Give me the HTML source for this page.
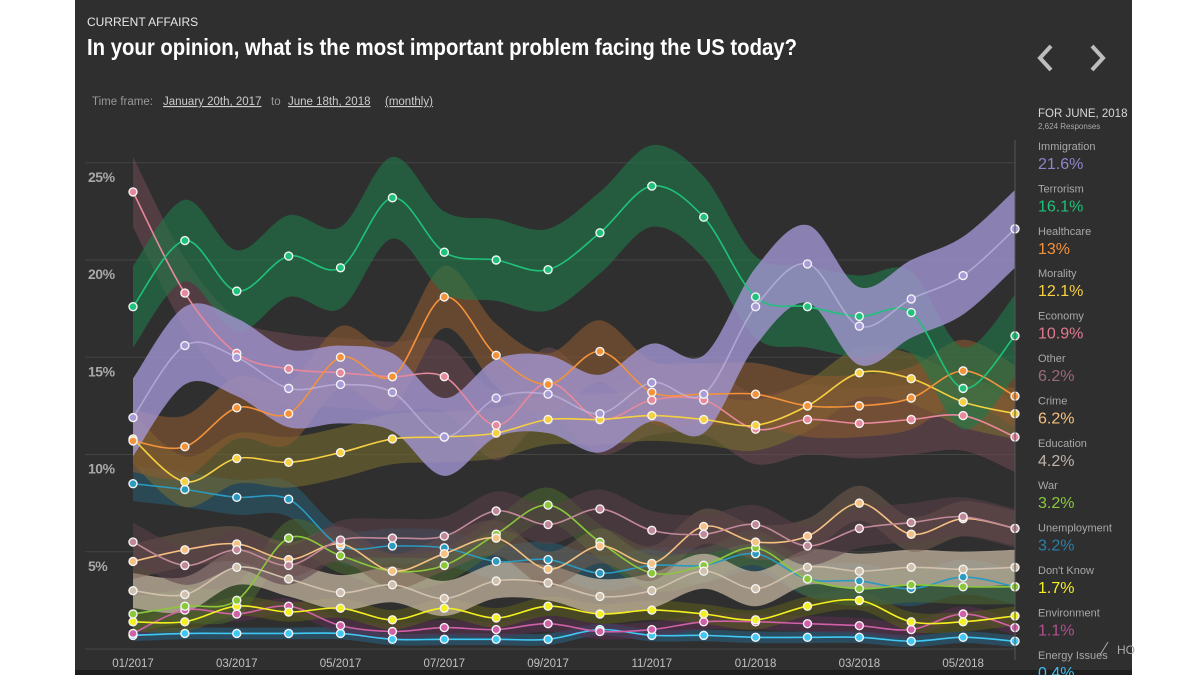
<!DOCTYPE html>
<html><head><meta charset="utf-8"><style>
html,body{margin:0;padding:0;background:#fff;}
svg{display:block;}
</style></head><body>
<svg id="chart" width="1200" height="675" xmlns="http://www.w3.org/2000/svg" font-family="'Liberation Sans', sans-serif">
<rect x="75" y="0" width="1057" height="675" fill="#2f2f2f"/>
<rect x="75" y="670" width="1057" height="5" fill="#1e1e1e"/>
<text x="87" y="26" fill="#e8e8e8" font-size="12">CURRENT AFFAIRS</text>
<text x="87" y="55" fill="#ffffff" font-size="23" font-weight="bold" font-family="'Liberation Sans Narrow','Liberation Sans',sans-serif" textLength="710" lengthAdjust="spacingAndGlyphs">In your opinion, what is the most important problem facing the US today?</text>
<text x="92" y="105" fill="#999" font-size="11.5">Time frame:</text>
<text x="163" y="105" fill="#ccc" font-size="11.5" text-decoration="underline">January 20th, 2017</text>
<text x="271" y="105" fill="#999" font-size="11.5">to</text>
<text x="288" y="105" fill="#ccc" font-size="11.5" text-decoration="underline">June 18th, 2018</text>
<text x="385" y="105" fill="#ccc" font-size="11.5" text-decoration="underline">(monthly)</text>
<polyline points="1051,46 1040,58 1051,70" fill="none" stroke="#bdbdbd" stroke-width="4"/>
<polyline points="1092,46 1103,58 1092,70" fill="none" stroke="#bdbdbd" stroke-width="4"/>
<g id="grid"></g>
<g id="bands"></g>
<g id="lines"></g>
<g id="xaxis"></g>
<line x1="1015" y1="140" x2="1015" y2="660" stroke="#555" stroke-width="1"/>
<text x="1038" y="117" fill="#d8d8d8" font-size="11.5">FOR JUNE, 2018</text>
<text x="1038" y="129" fill="#aaa" font-size="8">2,624 Responses</text>
<g id="legend"></g>
<text x="1117" y="654" fill="#aaa" font-size="12">HO</text>
<line x1="1100" y1="655" x2="1108" y2="642" stroke="#aaa" stroke-width="1"/>
</svg>
<script>
const months = ["01/2017","02/2017","03/2017","04/2017","05/2017","06/2017","07/2017","08/2017","09/2017","10/2017","11/2017","12/2017","01/2018","02/2018","03/2018","04/2018","05/2018","06/2018"];
const yTicks = [5,10,15,20,25];
const seriesNames = ["Immigration","Terrorism","Healthcare","Morality","Economy","Other","Crime","Education","War","Unemployment","Don't Know","Environment","Energy Issues"];
const immigration = [11.9,15.6,15.0,13.4,13.6,13.2,10.9,12.9,13.1,12.1,13.7,13.1,17.6,19.8,16.6,18.0,19.2,21.6];
const terrorism = [17.6,21.0,18.4,20.2,19.6,23.2,20.4,20.0,19.5,21.4,23.8,22.2,18.1,17.6,17.1,17.3,13.4,16.1];
const healthcare = [10.7,10.4,12.4,12.1,15.0,14.0,18.1,15.1,13.6,15.3,13.2,13.1,13.1,12.5,12.5,12.9,14.3,13.0];
const morality = [10.8,8.6,9.8,9.6,10.1,10.8,10.9,11.1,11.8,11.8,12.0,11.8,11.5,12.5,14.2,13.9,12.7,12.1];
const economy = [23.5,18.3,15.2,14.4,14.2,14.0,14.0,11.5,13.7,11.8,12.8,12.8,11.3,11.8,11.6,11.8,12.0,10.9];
const other = [5.5,4.3,5.1,4.3,5.6,5.7,5.8,7.1,6.4,7.2,6.1,5.9,6.4,5.3,6.2,6.5,6.8,6.2];
const crime = [4.5,5.1,5.4,4.6,5.4,4.0,4.9,5.7,4.1,5.3,4.4,6.3,5.5,5.8,7.5,5.9,6.7,6.2];
const education = [3.0,2.8,4.2,3.6,2.9,3.3,2.6,3.5,3.4,2.7,3.0,4.0,3.1,4.2,4.0,4.2,4.1,4.2];
const war = [1.8,2.2,2.5,5.7,4.8,4.0,4.3,5.9,7.4,5.5,3.9,4.3,5.2,3.6,3.1,3.3,3.2,3.2];
const unemployment = [8.5,8.2,7.8,7.7,5.3,5.3,5.2,4.5,4.6,3.9,4.3,4.3,4.9,3.6,3.5,3.1,3.7,3.2];
const dontKnow = [1.4,1.4,2.2,1.9,2.1,1.5,2.1,1.6,2.2,1.8,2.0,1.8,1.5,2.2,2.5,1.4,1.4,1.7];
const environment = [0.8,2.0,1.8,2.2,1.2,0.9,1.1,1.0,1.3,0.9,1.0,1.4,1.4,1.3,1.2,1.0,1.8,1.1];
const energy = [0.7,0.8,0.8,0.8,0.8,0.5,0.5,0.5,0.5,1.0,0.7,0.7,0.6,0.6,0.6,0.4,0.6,0.4];
const legendValues = ["21.6%","16.1%","13%","12.1%","10.9%","6.2%","6.2%","4.2%","3.2%","3.2%","1.7%","1.1%","0.4%"];

const seriesData = [immigration,terrorism,healthcare,morality,economy,other,crime,education,war,unemployment,dontKnow,environment,energy];
const styles = [
 {c:"#a89cd8",band:"#a497d6",bo:0.78,w:2.0,lc:"#8f86c8",lf:"#c8c0ea"},
 {c:"#1ec27a",band:"#1f7a4a",bo:0.6,w:2.1,lc:"#1ec27a"},
 {c:"#f4923a",band:"#8a5a30",bo:0.6,w:1.6,lc:"#f4923a"},
 {c:"#f6d040",band:"#7a7030",bo:0.55,w:1.3,lc:"#f6d040"},
 {c:"#e8889c",band:"#6a4a50",bo:0.6,w:1.8,lc:"#e07a90"},
 {c:"#c08898",band:"#5a4048",bo:0.55,w:1.0,lc:"#9a6a7a"},
 {c:"#f6c080",band:"#7a6050",bo:0.5,w:0.9,lc:"#f6c080"},
 {c:"#d0c0ac",band:"#c4b4a0",bo:0.75,w:0.9,lc:"#c0b4a8"},
 {c:"#8ac83a",band:"#4a6a30",bo:0.55,w:0.9,lc:"#8ac83a"},
 {c:"#2a9ac0",band:"#2a5a70",bo:0.6,w:0.9,lc:"#2a7fa8"},
 {c:"#f4f020",band:"#5a5a20",bo:0.6,w:0.5,lc:"#f4f020"},
 {c:"#d060a8",band:"#5a3050",bo:0.55,w:0.4,lc:"#b05090"},
 {c:"#40c8f4",band:"#2a6080",bo:0.6,w:0.3,lc:"#40c0f0"}
];
const NS="http://www.w3.org/2000/svg";
const x = i => 133 + i*(1015-133)/17;
const y = v => 649 - v*19.45;
function mk(tag, attrs, parent){const e=document.createElementNS(NS,tag);for(const k in attrs)e.setAttribute(k,attrs[k]);parent.appendChild(e);return e;}
function smooth(pts){
  let d="M"+pts[0][0]+","+pts[0][1];
  for(let i=0;i<pts.length-1;i++){
    const p0=pts[i-1]||pts[i],p1=pts[i],p2=pts[i+1],p3=pts[i+2]||p2;
    const c1=[p1[0]+(p2[0]-p0[0])/6,p1[1]+(p2[1]-p0[1])/6];
    const c2=[p2[0]-(p3[0]-p1[0])/6,p2[1]-(p3[1]-p1[1])/6];
    d+=" C"+c1[0]+","+c1[1]+" "+c2[0]+","+c2[1]+" "+p2[0]+","+p2[1];
  }
  return d;
}
const grid=document.getElementById('grid');
mk('line',{x1:85,x2:1015,y1:y(0),y2:y(0),stroke:"#444","stroke-width":1},grid);
yTicks.forEach(t=>{
  const l=mk('line',{x1:85,x2:1015,y1:y(t),y2:y(t),stroke:"#444","stroke-width":1},grid);
  
  
  const tx=mk('text',{x:88,y:y(t)+19,fill:"#a8a8a8","font-size":14,"font-weight":"bold","letter-spacing":"-0.5"},grid);
  tx.textContent=t+"%";
  
  
});
const xa=document.getElementById('xaxis');
months.forEach((m,i)=>{
  if(i%2) return;
  const t=mk('text',{x:x(i),y:667,fill:"#c0c0c0","font-size":11.5,"text-anchor":"middle"},xa);
  t.textContent=m;
  
  
});
const bands=document.getElementById('bands'), lines=document.getElementById('lines');
const order=[12,11,10,9,8,7,6,5,4,3,2,1,0];
order.forEach(s=>{
  const d=seriesData[s], st=styles[s];
  const top=d.map((v,i)=>[x(i),y(v+st.w)]);
  const bot=d.map((v,i)=>[x(i),y(Math.max(0,v-st.w))]).reverse();
  const path=smooth(top)+" L"+bot[0][0]+","+bot[0][1]+smooth(bot).replace(/^M[^ C]+/,"")+" Z";
  const b=mk('path',{d:path,fill:st.band,"fill-opacity":st.bo},bands);
  
  
});
order.forEach(s=>{
  const d=seriesData[s], st=styles[s];
  const pts=d.map((v,i)=>[x(i),y(v)]);
  const g=mk('g',{},lines);
  
  
  mk('path',{d:smooth(pts),fill:"none",stroke:st.lf||st.c,"stroke-width":1.6,"stroke-opacity":s===0?0.6:1},g);
  pts.forEach(p=>{
    const c=mk('circle',{cx:p[0],cy:p[1],r:4,fill:st.c,stroke:"#f4f4f4","stroke-width":1.4},g);
    
    
  });
});
const lg=document.getElementById('legend');
seriesNames.forEach((n,i)=>{
  const yy=150+i*42.4;
  const g=mk('g',{},lg);
  
  
  const a=mk('text',{x:1038,y:yy,fill:"#a8a8a8","font-size":11},g); a.textContent=n;
  const b=mk('text',{x:1038,y:yy+19,fill:styles[i].lc,"font-size":16},g); b.textContent=legendValues[i];
});
</script>
</body></html>
